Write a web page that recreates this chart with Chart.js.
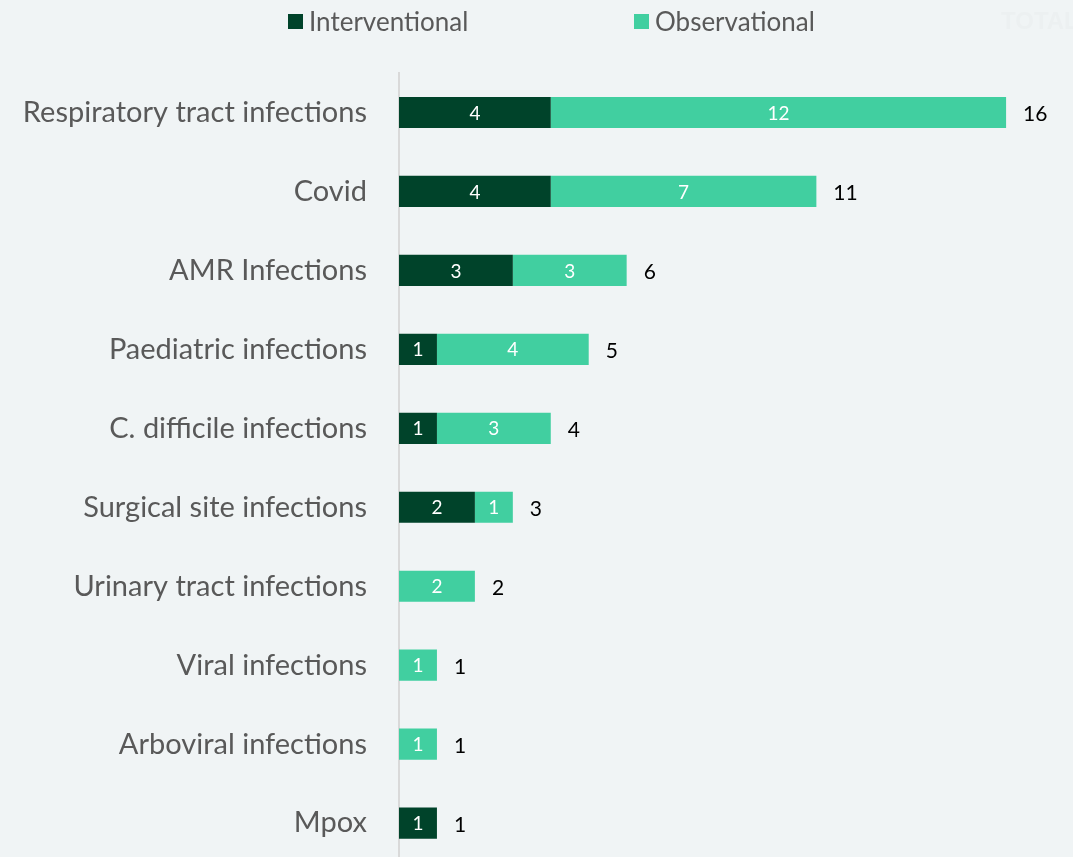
<!DOCTYPE html>
<html><head><meta charset="utf-8">
<script src="https://cdn.jsdelivr.net/npm/chart.js@4"></script>
<style>
html,body{margin:0;padding:0;background:#F0F4F5;overflow:hidden;width:1073px;height:857px;}
#c{position:absolute;left:0;top:0;}
#legend{position:absolute;top:5px;left:288px;display:flex;font-family:Lato,"Noto Sans",sans-serif;font-size:26px;color:#595959;z-index:2;white-space:nowrap;}
#legend .it{display:flex;align-items:center;width:346px;}
#legend .bx{width:15px;height:15px;margin-right:6px;}
#legend .tot{font-family:"Liberation Sans",Arial,sans-serif;font-weight:bold;font-size:24px;}
</style></head>
<body>
<div id="legend"></div>
<canvas id="c" width="1073" height="904"></canvas>
<script>
const categories = ["Respiratory tract infections","Covid","AMR Infections","Paediatric infections","C. difficile infections","Surgical site infections","Urinary tract infections","Viral infections","Arboviral infections","Mpox"];
const interventional = [4,4,3,1,1,2,0,0,0,1];
const observational = [12,7,3,4,3,1,2,1,1,0];
const totals = [16,11,6,5,4,3,2,1,1,1];
const seriesNames = ["Interventional","Observational","TOTAL"];
const colors = ["#00432A","#41CFA0","rgba(0,0,0,0)"];
const legendText = ["#595959","#595959","#ECF0F1"];

const labelsPlugin = {
  id:'labels',
  afterDatasetsDraw(chart){
    const ctx = chart.ctx;
    ctx.save();
    ctx.textBaseline='middle';
    [0,1].forEach(di=>{
      const meta = chart.getDatasetMeta(di);
      meta.data.forEach((el,i)=>{
        const v = chart.data.datasets[di].data[i];
        if(!v) return;
        ctx.fillStyle='#FFFFFF';
        ctx.font='19px Lato, "Noto Sans", sans-serif';
        ctx.textAlign='center';
        ctx.fillText(String(v),(el.x+el.base)/2,el.y+1);
      });
    });
    const xs = chart.scales.x;
    const m0 = chart.getDatasetMeta(0);
    totals.forEach((t,i)=>{
      ctx.fillStyle='#000000';
      ctx.font='21px Lato, "Noto Sans", sans-serif';
      ctx.textAlign='left';
      ctx.fillText(String(t),xs.getPixelForValue(t)+17,m0.data[i].y+2);
    });
    ctx.restore();
  }
};

const leg = document.getElementById('legend');
seriesNames.forEach((n,i)=>{
  const d=document.createElement('div');d.className='it';
  const bx=document.createElement('span');bx.className='bx';bx.style.background=colors[i];
  const tx=document.createElement('span');tx.textContent=n;tx.style.color=legendText[i];
  if(i===2) tx.className='tot';
  d.appendChild(bx);d.appendChild(tx);
  leg.appendChild(d);
});

new Chart(document.getElementById('c'),{
  type:'bar',
  data:{labels:categories,datasets:[
    {label:seriesNames[0],data:interventional,backgroundColor:colors[0],categoryPercentage:1,barPercentage:0.395},
    {label:seriesNames[1],data:observational,backgroundColor:colors[1],categoryPercentage:1,barPercentage:0.395},
    {label:seriesNames[2],data:categories.map(()=>0),backgroundColor:colors[2],categoryPercentage:1,barPercentage:0.395}
  ]},
  options:{
    indexAxis:'y',responsive:false,animation:false,
    layout:{padding:{top:73,bottom:0,right:10,left:0}},
    plugins:{legend:{display:false},tooltip:{enabled:false}},
    scales:{
      x:{stacked:true,min:0,max:17.5,display:false},
      y:{stacked:true,grid:{display:false},border:{display:true,color:'#D9D9D9',width:2},
        ticks:{color:'#595959',padding:24,font:{family:'Lato, "Noto Sans", sans-serif',size:29}},
        afterFit(s){s.width=399;}}
    }
  },
  plugins:[labelsPlugin]
});
</script>
</body></html>
